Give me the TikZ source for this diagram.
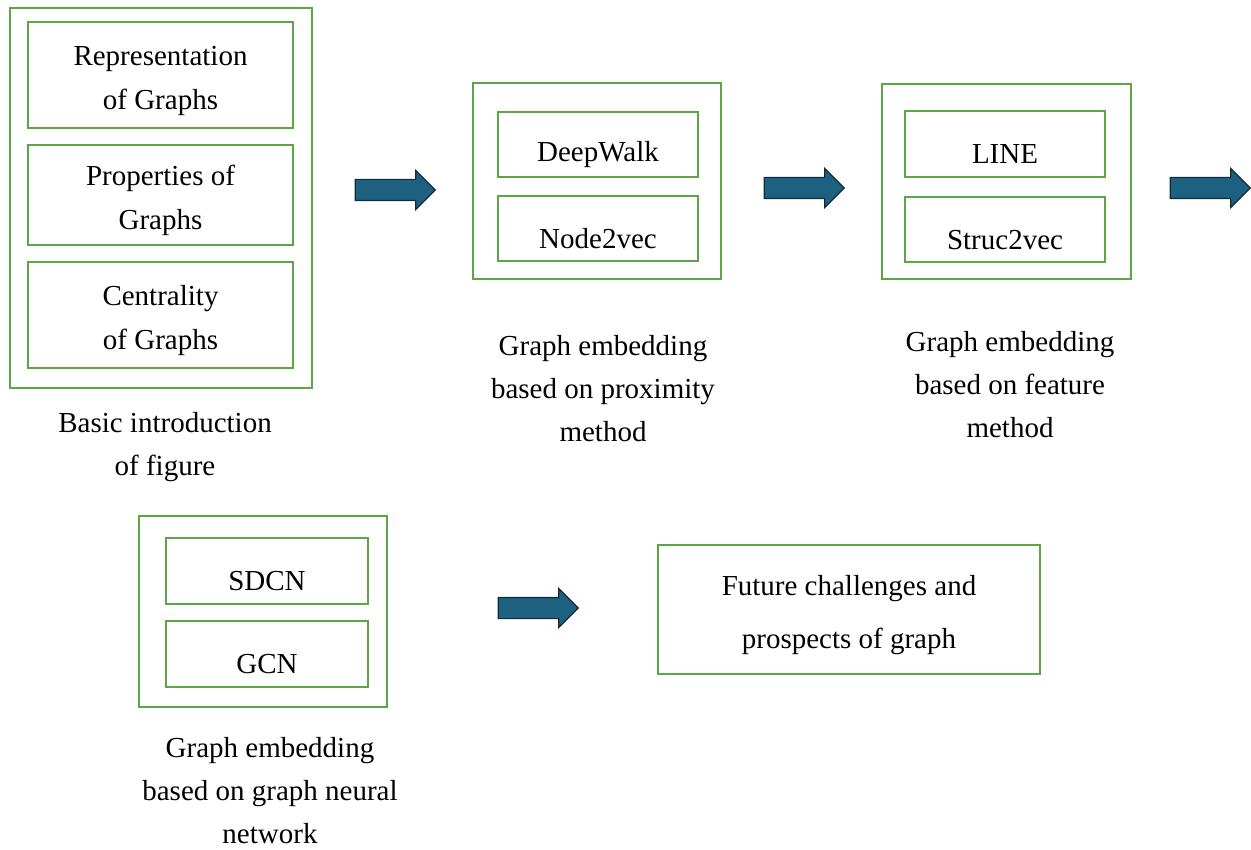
\documentclass[tikz,border=0pt]{standalone}
\usepackage{fontspec}
\setmainfont{Liberation Serif}
\usetikzlibrary{shapes.arrows,positioning}

\definecolor{boxgreen}{RGB}{92,166,72}
\definecolor{arrowblue}{RGB}{30,96,128}
\definecolor{arrowline}{RGB}{16,44,60}

\newcommand{\lowr}[1]{\rule{0pt}{#1}}

\begin{document}
\begin{tikzpicture}[x=0.5pt,y=-0.5pt,
    outerbox/.style={draw=boxgreen, line width=1.1pt, inner sep=0pt},
    innerbox/.style={draw=boxgreen, line width=1.3pt, align=center, inner sep=0pt,
        font=\fontsize{14.5}{22}\selectfont},
    caption/.style={align=center, inner sep=0pt, font=\fontsize{14.5}{21.5}\selectfont},
    blockarrow/.style={single arrow, fill=arrowblue, draw=arrowline, line width=0.6pt,
        minimum height=40pt, inner sep=5pt, single arrow head extend=4.5pt}]
    \useasboundingbox (0,0) rectangle (1251,850);

    % basic introduction
    \node[outerbox, minimum width=151pt, minimum height=190pt] (intro) at (161,198) {};
    \node[innerbox, minimum width=132.5pt, minimum height=53pt] (repr) at (160.5,75) {\lowr{16pt}Representation\\of Graphs};
    \node[innerbox, minimum width=132.5pt, minimum height=50pt] (prop) at (160.5,195) {\lowr{16pt}Properties of\\Graphs};
    \node[innerbox, minimum width=132.5pt, minimum height=53pt] (cent) at (160.5,315) {\lowr{16pt}Centrality\\of Graphs};
    \node[caption] (introlabel) at (165,447) {Basic introduction\\of figure};

    \node[blockarrow] (arrowA) at (390,190) {};

    % proximity method
    \node[outerbox, minimum width=124pt, minimum height=98pt] (prox) at (597,181) {};
    \node[innerbox, minimum width=100pt, minimum height=32.5pt] (deepwalk) at (598,144.5) {\lowr{20pt}DeepWalk};
    \node[innerbox, minimum width=100pt, minimum height=32.5pt] (nodevec) at (598,228.5) {\lowr{20pt}Node2vec};
    \node[caption] (proxlabel) at (603,389) {Graph embedding\\based on proximity\\method};

    \node[blockarrow] (arrowB) at (799,188) {};

    % feature method
    \node[outerbox, minimum width=124.5pt, minimum height=97.5pt] (feat) at (1006.5,181.5) {};
    \node[innerbox, minimum width=100pt, minimum height=33pt] (line) at (1005,144) {\lowr{20pt}LINE};
    \node[innerbox, minimum width=100pt, minimum height=32.5pt] (strucvec) at (1005,229.5) {\lowr{20pt}Struc2vec};
    \node[caption] (featlabel) at (1010,385) {Graph embedding\\based on feature\\method};

    \node[blockarrow] (arrowC) at (1205,188) {};

    % graph neural network
    \node[outerbox, minimum width=124pt, minimum height=95.5pt] (gnn) at (263,611.5) {};
    \node[innerbox, minimum width=101pt, minimum height=33pt] (sdcn) at (267,571) {\lowr{20pt}SDCN};
    \node[innerbox, minimum width=101pt, minimum height=33pt] (gcn) at (267,654) {\lowr{20pt}GCN};
    \node[caption] (gnnlabel) at (270,791) {Graph embedding\\based on graph neural\\network};

    \node[blockarrow] (arrowD) at (533,608) {};

    % future
    \node[innerbox, minimum width=191pt, minimum height=64.5pt,
        font=\fontsize{14.5}{26.5}\selectfont] (future) at (849,609.5) {\lowr{16pt}Future challenges and\\prospects of graph};
\end{tikzpicture}
\end{document}
